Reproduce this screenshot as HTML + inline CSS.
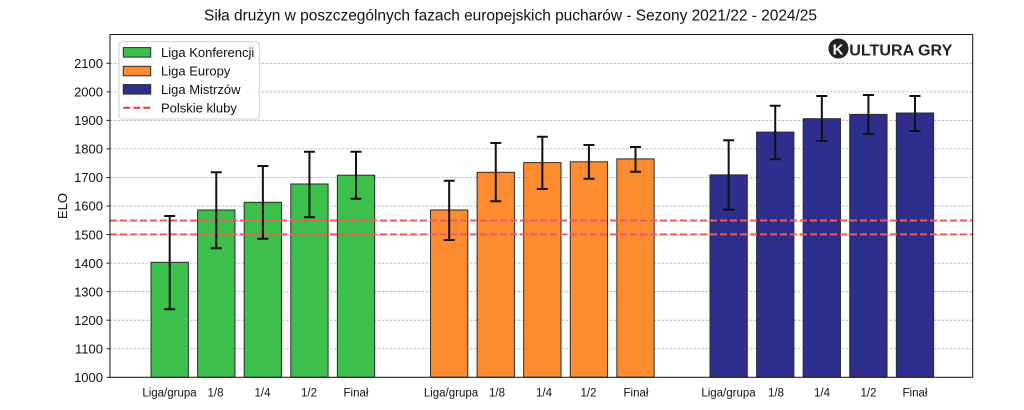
<!DOCTYPE html>
<html><head><meta charset="utf-8"><style>
html,body{margin:0;padding:0;background:#fff;}
svg{display:block;}
text{font-family:"Liberation Sans",Arial,sans-serif;}
</style></head><body>
<svg width="1024" height="410" viewBox="0 0 1024 410" xmlns="http://www.w3.org/2000/svg">
<rect width="1024" height="410" fill="#fff"/>
<text x="510.5" y="20.7" font-size="15.5" text-anchor="middle" fill="#111" textLength="613" lengthAdjust="spacing">Siła drużyn w poszczególnych fazach europejskich pucharów - Sezony 2021/22 - 2024/25</text>

<!-- grid -->
<g stroke="#aaaaaa" stroke-width="0.8" stroke-dasharray="2.5,1.5">
<line x1="110" x2="972.7" y1="348.75" y2="348.75"/>
<line x1="110" x2="972.7" y1="320.2" y2="320.2"/>
<line x1="110" x2="972.7" y1="291.7" y2="291.7"/>
<line x1="110" x2="972.7" y1="263.1" y2="263.1"/>
<line x1="110" x2="972.7" y1="234.6" y2="234.6"/>
<line x1="110" x2="972.7" y1="206.0" y2="206.0"/>
<line x1="110" x2="972.7" y1="177.5" y2="177.5"/>
<line x1="110" x2="972.7" y1="148.9" y2="148.9"/>
<line x1="110" x2="972.7" y1="120.4" y2="120.4"/>
<line x1="110" x2="972.7" y1="91.85" y2="91.85"/>
<line x1="110" x2="972.7" y1="63.3" y2="63.3"/>
</g>

<!-- bars -->
<g stroke="#2a2a2a" stroke-width="1">
<g fill="#3cc04b">
<rect x="151.05" y="262.3" width="37.3" height="115.0"/>
<rect x="197.63" y="210.0" width="37.3" height="167.3"/>
<rect x="244.21" y="202.3" width="37.3" height="175.0"/>
<rect x="290.79" y="184.0" width="37.3" height="193.3"/>
<rect x="337.37" y="175.2" width="37.3" height="202.1"/>
</g>
<g fill="#fd8c30">
<rect x="430.53" y="210.0" width="37.3" height="167.3"/>
<rect x="477.11" y="172.3" width="37.3" height="205.0"/>
<rect x="523.69" y="162.6" width="37.3" height="214.7"/>
<rect x="570.27" y="161.8" width="37.3" height="215.5"/>
<rect x="616.85" y="158.9" width="37.3" height="218.4"/>
</g>
<g fill="#2e2e8e">
<rect x="710.01" y="174.9" width="37.3" height="202.4"/>
<rect x="756.59" y="132.1" width="37.3" height="245.2"/>
<rect x="803.17" y="118.7" width="37.3" height="258.6"/>
<rect x="849.75" y="114.4" width="37.3" height="262.9"/>
<rect x="896.33" y="113.0" width="37.3" height="264.3"/>
</g>
</g>

<!-- polish clubs lines -->
<g stroke="#ee5a5a" stroke-width="2" stroke-dasharray="7,3">
<line x1="110" x2="972.7" y1="220.5" y2="220.5"/>
<line x1="110" x2="972.7" y1="234.4" y2="234.4"/>
</g>

<!-- error bars -->
<g stroke="#111" stroke-width="2">
<path d="M169.7 216V309.3M164.2 216H175.2M164.2 309.3H175.2"/>
<path d="M216.28 172.3V248.3M210.78 172.3H221.78M210.78 248.3H221.78"/>
<path d="M262.86 166V238.7M257.36 166H268.36M257.36 238.7H268.36"/>
<path d="M309.44 151.7V217.3M303.94 151.7H314.94M303.94 217.3H314.94"/>
<path d="M356.02 151.7V198.7M350.52 151.7H361.52M350.52 198.7H361.52"/>

<path d="M449.18 180.7V240M443.68 180.7H454.68M443.68 240H454.68"/>
<path d="M495.76 143V201.3M490.26 143H501.26M490.26 201.3H501.26"/>
<path d="M542.34 136.7V189M536.84 136.7H547.84M536.84 189H547.84"/>
<path d="M588.92 145V178.7M583.42 145H594.42M583.42 178.7H594.42"/>
<path d="M635.5 147V171.7M630 147H641M630 171.7H641"/>

<path d="M728.66 140.3V209.7M723.16 140.3H734.16M723.16 209.7H734.16"/>
<path d="M775.24 105.7V159.3M769.74 105.7H780.74M769.74 159.3H780.74"/>
<path d="M821.82 96V141M816.32 96H827.32M816.32 141H827.32"/>
<path d="M868.4 95V134M862.9 95H873.9M862.9 134H873.9"/>
<path d="M914.98 96V131M909.48 96H920.48M909.48 131H920.48"/>
</g>

<!-- axes frame -->
<rect x="110" y="34.5" width="862.7" height="342.8" fill="none" stroke="#222" stroke-width="1.1"/>

<!-- y ticks -->
<g stroke="#222" stroke-width="1">
<line x1="106.5" x2="110" y1="377.3" y2="377.3"/>
<line x1="106.5" x2="110" y1="348.75" y2="348.75"/>
<line x1="106.5" x2="110" y1="320.2" y2="320.2"/>
<line x1="106.5" x2="110" y1="291.7" y2="291.7"/>
<line x1="106.5" x2="110" y1="263.1" y2="263.1"/>
<line x1="106.5" x2="110" y1="234.6" y2="234.6"/>
<line x1="106.5" x2="110" y1="206.0" y2="206.0"/>
<line x1="106.5" x2="110" y1="177.5" y2="177.5"/>
<line x1="106.5" x2="110" y1="148.9" y2="148.9"/>
<line x1="106.5" x2="110" y1="120.4" y2="120.4"/>
<line x1="106.5" x2="110" y1="91.85" y2="91.85"/>
<line x1="106.5" x2="110" y1="63.3" y2="63.3"/>
</g>
<g font-size="13" fill="#111" text-anchor="end">
<text x="103" y="382">1000</text>
<text x="103" y="353.4">1100</text>
<text x="103" y="324.9">1200</text>
<text x="103" y="296.4">1300</text>
<text x="103" y="267.8">1400</text>
<text x="103" y="239.3">1500</text>
<text x="103" y="210.7">1600</text>
<text x="103" y="182.2">1700</text>
<text x="103" y="153.6">1800</text>
<text x="103" y="125.1">1900</text>
<text x="103" y="96.5">2000</text>
<text x="103" y="68">2100</text>
</g>
<text transform="translate(67,206) rotate(-90)" font-size="13" text-anchor="middle" fill="#111">ELO</text>

<!-- x labels -->
<g font-size="11.5" fill="#111" text-anchor="middle">
<text x="169.5" y="396.5">Liga/grupa</text>
<text x="215.5" y="396.5">1/8</text>
<text x="262.5" y="396.5">1/4</text>
<text x="309" y="396.5">1/2</text>
<text x="356" y="396.5">Finał</text>
<text x="451" y="396.5">Liga/grupa</text>
<text x="497" y="396.5">1/8</text>
<text x="544" y="396.5">1/4</text>
<text x="588.5" y="396.5">1/2</text>
<text x="636" y="396.5">Finał</text>
<text x="728.5" y="396.5">Liga/grupa</text>
<text x="776" y="396.5">1/8</text>
<text x="822" y="396.5">1/4</text>
<text x="868.5" y="396.5">1/2</text>
<text x="915" y="396.5">Finał</text>
</g>

<!-- legend -->
<rect x="119" y="41.7" width="140.3" height="77.3" rx="3" fill="#fff" fill-opacity="0.85" stroke="#d0d0d0" stroke-width="1"/>
<g stroke="#2a2a2a" stroke-width="1">
<rect x="123.3" y="47.6" width="27.4" height="9.5" fill="#3cc04b"/>
<rect x="123.3" y="66.3" width="27.4" height="9.5" fill="#fd8c30"/>
<rect x="123.3" y="84.6" width="27.4" height="9.5" fill="#2e2e8e"/>
</g>
<line x1="123.3" x2="150.7" y1="107.7" y2="107.7" stroke="#ee3333" stroke-width="2" stroke-dasharray="7,3"/>
<g font-size="13" fill="#111">
<text x="161" y="57">Liga Konferencji</text>
<text x="161" y="75.7">Liga Europy</text>
<text x="161" y="94">Liga Mistrzów</text>
<text x="161" y="112.4">Polskie kluby</text>
</g>

<!-- logo -->
<circle cx="838.5" cy="48.5" r="10" fill="#222"/>
<text x="838" y="54.5" font-size="15" font-weight="bold" fill="#fff" text-anchor="middle">K</text>
<text x="849.3" y="55.7" font-size="16" font-weight="bold" fill="#222" textLength="103" lengthAdjust="spacingAndGlyphs">ULTURA GRY</text>
</svg>
</body></html>
